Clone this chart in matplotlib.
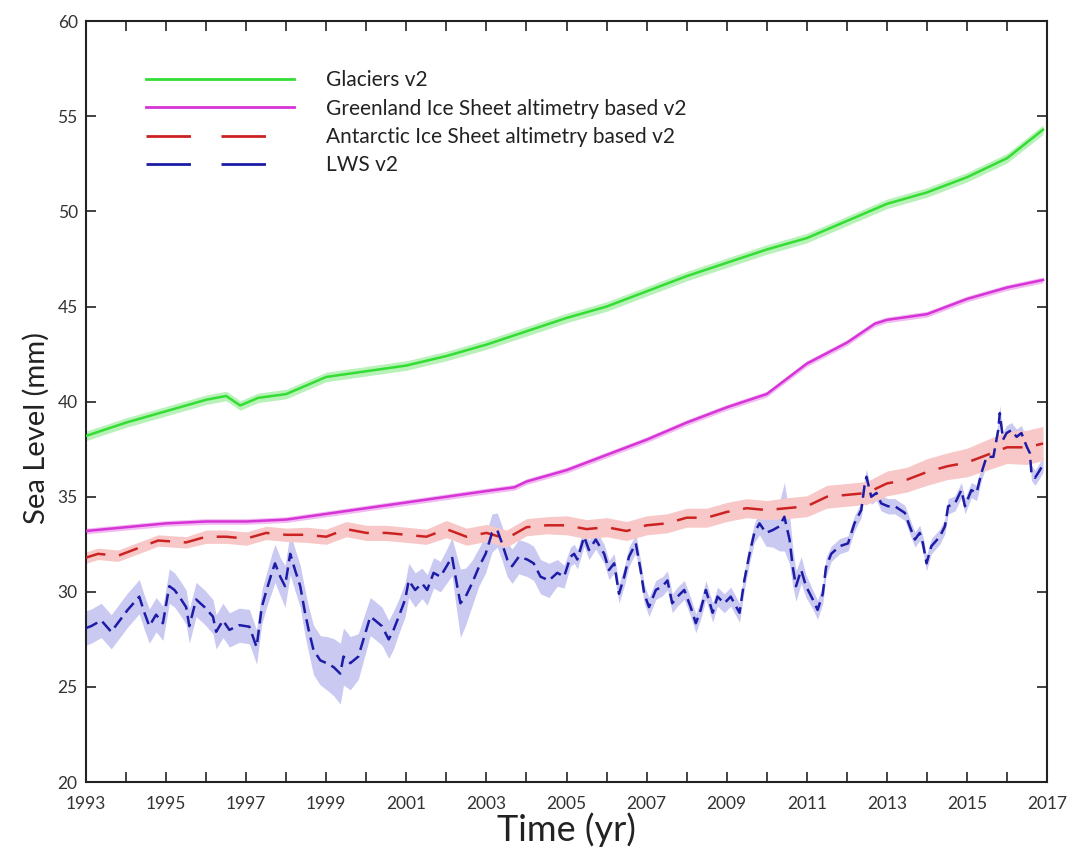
#!/usr/bin/env python3
"""
Sea level contributions 1993-2017: glaciers, Greenland, Antarctica and land water storage.
"""

import numpy as np
import matplotlib
matplotlib.use('Agg')
import matplotlib.pyplot as plt
from matplotlib.lines import Line2D

plt.rcParams['font.family'] = ['Lato', 'DejaVu Sans']

# Glaciers v2
glac_year = [1993.0, 1994.0, 1995.0, 1996.0, 1996.5, 1996.85, 1997.3, 1998.0, 1999.0, 2000.0,
             2001.0, 2002.0, 2003.0, 2004.0, 2005.0, 2006.0, 2007.0, 2008.0, 2009.0, 2010.0,
             2011.0, 2012.0, 2013.0, 2014.0, 2015.0, 2016.0, 2016.9]
glac_val = [38.2, 38.9, 39.5, 40.1, 40.3, 39.8, 40.2, 40.4, 41.3, 41.6,
            41.9, 42.4, 43.0, 43.7, 44.4, 45.0, 45.8, 46.6, 47.3, 48.0,
            48.6, 49.5, 50.4, 51.0, 51.8, 52.8, 54.3]

# Greenland Ice Sheet altimetry based v2
grl_year = [1993.0, 1994.0, 1995.0, 1996.0, 1997.0, 1998.0, 1999.0, 2000.0, 2001.0, 2002.0,
            2003.0, 2003.7, 2004.0, 2005.0, 2006.0, 2007.0, 2008.0, 2009.0, 2010.0, 2010.5,
            2011.0, 2012.0, 2012.7, 2013.0, 2014.0, 2015.0, 2016.0, 2016.9]
grl_val = [33.2, 33.4, 33.6, 33.7, 33.7, 33.8, 34.1, 34.4, 34.7, 35.0,
           35.3, 35.5, 35.8, 36.4, 37.2, 38.0, 38.9, 39.7, 40.4, 41.2,
           42.0, 43.1, 44.1, 44.3, 44.6, 45.4, 46.0, 46.4]

# Antarctic Ice Sheet altimetry based v2
ant_year = [1993.0, 1993.3, 1993.8, 1994.3, 1994.8, 1995.5, 1996.0, 1996.5, 1997.0, 1997.5,
            1998.0, 1998.5, 1999.0, 1999.5, 2000.0, 2000.5, 2001.0, 2001.5, 2002.0, 2002.5,
            2003.0, 2003.5, 2004.0, 2004.5, 2005.0, 2005.5, 2006.0, 2006.5, 2007.0, 2007.5,
            2008.0, 2008.5, 2009.0, 2009.5, 2010.0, 2010.5, 2011.0, 2011.5, 2012.0, 2012.5,
            2013.0, 2013.5, 2014.0, 2014.5, 2015.0, 2015.5, 2016.0, 2016.5, 2016.9]
ant_val = [31.8, 32.0, 31.9, 32.3, 32.7, 32.6, 32.9, 32.9, 32.8, 33.1,
           33.0, 33.0, 32.9, 33.3, 33.1, 33.1, 33.0, 32.9, 33.3, 32.9,
           33.1, 32.8, 33.4, 33.5, 33.5, 33.3, 33.4, 33.2, 33.5, 33.6,
           33.9, 33.9, 34.2, 34.4, 34.3, 34.4, 34.5, 35.0, 35.1, 35.2,
           35.7, 35.9, 36.3, 36.6, 36.8, 37.2, 37.6, 37.6, 37.8]
ant_err = [0.3, 0.3, 0.3, 0.3, 0.3, 0.3, 0.35, 0.35, 0.35, 0.35,
           0.35, 0.4, 0.4, 0.4, 0.4, 0.4, 0.4, 0.4, 0.45, 0.45,
           0.45, 0.45, 0.45, 0.45, 0.5, 0.5, 0.5, 0.5, 0.5, 0.5,
           0.5, 0.5, 0.5, 0.5, 0.5, 0.55, 0.55, 0.6, 0.6, 0.6,
           0.65, 0.65, 0.7, 0.7, 0.75, 0.8, 0.85, 0.9, 0.9]

# LWS v2
lws_year = [1993.00, 1993.13, 1993.38, 1993.63, 1993.79, 1994.04, 1994.33, 1994.46, 1994.58, 1994.75,
            1994.92, 1995.08, 1995.21, 1995.33, 1995.50, 1995.58, 1995.75, 1995.96, 1996.17, 1996.25,
            1996.42, 1996.58, 1996.83, 1997.08, 1997.26, 1997.39, 1997.51, 1997.64, 1997.72, 1997.85,
            1997.97, 1998.10, 1998.22, 1998.35, 1998.47, 1998.56, 1998.68, 1998.85, 1999.01, 1999.18,
            1999.35, 1999.43, 1999.60, 1999.80, 1999.97, 2000.10, 2000.22, 2000.39, 2000.56, 2000.68,
            2000.81, 2000.97, 2001.06, 2001.22, 2001.39, 2001.52, 2001.68, 2001.85, 2002.02, 2002.14,
            2002.27, 2002.35, 2002.48, 2002.64, 2002.81, 2002.98, 2003.14, 2003.27, 2003.39, 2003.52,
            2003.64, 2003.81, 2004.02, 2004.18, 2004.35, 2004.56, 2004.77, 2004.94, 2005.10, 2005.19,
            2005.27, 2005.44, 2005.56, 2005.73, 2005.94, 2006.06, 2006.19, 2006.31, 2006.44, 2006.56,
            2006.73, 2006.85, 2006.94, 2007.06, 2007.23, 2007.40, 2007.52, 2007.64, 2007.77, 2007.94,
            2008.10, 2008.23, 2008.35, 2008.48, 2008.65, 2008.77, 2008.94, 2009.10, 2009.32, 2009.44,
            2009.57, 2009.69, 2009.82, 2009.98, 2010.15, 2010.32, 2010.44, 2010.57, 2010.65, 2010.73,
            2010.86, 2010.98, 2011.15, 2011.27, 2011.40, 2011.48, 2011.61, 2011.82, 2012.03, 2012.19,
            2012.36, 2012.44, 2012.49, 2012.61, 2012.74, 2012.86, 2013.03, 2013.20, 2013.45, 2013.57,
            2013.70, 2013.82, 2013.90, 2013.99, 2014.11, 2014.32, 2014.45, 2014.53, 2014.70, 2014.86,
            2014.95, 2015.11, 2015.24, 2015.36, 2015.49, 2015.66, 2015.78, 2015.82, 2015.90, 2015.99,
            2016.11, 2016.24, 2016.36, 2016.49, 2016.57, 2016.61, 2016.70, 2016.82, 2016.90]
lws_val = [28.1, 28.2, 28.5, 27.9, 28.35, 29.05, 29.75, 28.9, 28.2, 28.8,
           28.35, 30.3, 30.1, 29.75, 29.2, 28.2, 29.6, 29.2, 28.7, 27.9,
           28.5, 28.0, 28.25, 28.17, 27.1, 29.2, 30.1, 31.0, 31.5, 30.8,
           30.3, 32.0, 31.15, 30.3, 28.9, 28.0, 26.95, 26.4, 26.25, 26.05,
           25.7, 26.6, 26.25, 26.6, 27.8, 28.7, 28.5, 28.2, 27.5, 28.0,
           28.7, 29.6, 30.6, 30.1, 30.45, 30.1, 31.0, 30.8, 31.4, 31.85,
           30.3, 29.4, 29.75, 30.45, 31.3, 32.0, 33.1, 33.25, 32.55, 31.7,
           31.35, 31.85, 31.7, 31.5, 30.8, 30.6, 31.0, 30.8, 31.85, 32.0,
           31.7, 32.9, 32.2, 32.75, 32.0, 31.15, 31.5, 29.9, 30.8, 31.85,
           32.55, 31.15, 29.9, 29.2, 30.1, 30.3, 30.6, 29.4, 29.75, 30.1,
           29.2, 28.35, 29.05, 30.1, 28.9, 29.75, 29.4, 29.75, 28.9, 30.6,
           32.0, 33.1, 33.6, 33.1, 33.25, 33.45, 33.95, 32.75, 31.3, 30.3,
           31.15, 30.3, 29.6, 29.05, 29.9, 31.3, 32.0, 32.4, 32.55, 33.6,
           34.3, 35.55, 36.05, 35.0, 35.2, 34.65, 34.5, 34.5, 34.15, 33.45,
           32.75, 33.1, 32.55, 31.5, 32.4, 32.9, 33.45, 34.5, 34.65, 35.35,
           34.5, 35.35, 35.2, 36.25, 37.1, 37.1, 38.5, 39.4, 38.0, 38.35,
           38.5, 38.15, 38.35, 37.65, 37.3, 36.25, 36.0, 36.4, 36.7]
lws_err = [0.9, 0.9, 0.9, 0.9, 0.9, 0.9, 0.9, 0.9, 0.9, 0.9,
           0.9, 0.9, 0.9, 0.9, 0.9, 0.9, 0.9, 0.9, 0.9, 0.9,
           0.9, 0.9, 0.9, 0.9, 0.9, 0.9, 0.9, 1.0, 1.0, 1.0,
           1.1, 1.1, 1.1, 1.1, 1.2, 1.2, 1.3, 1.3, 1.4, 1.5,
           1.6, 1.5, 1.4, 1.2, 1.1, 1.0, 1.0, 1.0, 1.0, 1.0,
           0.9, 0.9, 0.9, 0.9, 0.8, 0.8, 0.8, 0.8, 0.9, 1.0,
           1.5, 1.8, 1.5, 1.2, 1.0, 1.0, 1.0, 0.9, 0.9, 0.9,
           0.9, 0.9, 0.9, 0.9, 0.9, 0.9, 0.7, 0.6, 0.5, 0.5,
           0.5, 0.5, 0.5, 0.5, 0.5, 0.5, 0.5, 0.5, 0.5, 0.5,
           0.5, 0.5, 0.5, 0.5, 0.5, 0.5, 0.5, 0.5, 0.5, 0.5,
           0.5, 0.5, 0.5, 0.5, 0.5, 0.5, 0.5, 0.5, 0.5, 0.5,
           0.5, 0.5, 0.6, 0.7, 0.9, 1.3, 1.8, 1.3, 1.0, 0.8,
           0.7, 0.6, 0.5, 0.5, 0.5, 0.5, 0.4, 0.4, 0.4, 0.4,
           0.4, 0.4, 0.4, 0.4, 0.4, 0.4, 0.4, 0.4, 0.4, 0.4,
           0.4, 0.4, 0.4, 0.4, 0.4, 0.4, 0.4, 0.4, 0.4, 0.4,
           0.4, 0.4, 0.4, 0.4, 0.4, 0.4, 0.4, 0.4, 0.4, 0.4,
           0.4, 0.4, 0.4, 0.4, 0.4, 0.4, 0.4, 0.4, 0.4]

labels = ['Glaciers v2', 'Greenland Ice Sheet altimetry based v2',
          'Antarctic Ice Sheet altimetry based v2', 'LWS v2']

GREEN = '#33dd33'
MAGENTA = '#d634d6'
RED = '#cc2222'
BLUE = '#1c1ca6'

fig = plt.figure(figsize=(10.75, 8.51), dpi=100)
ax = fig.add_axes([0.080, 0.081, 0.894, 0.894])

# uncertainty bands
ly, lv, le = np.array(lws_year), np.array(lws_val), np.array(lws_err)
ax.fill_between(ly, lv - le, lv + le, color='#c9c9f2', lw=0, zorder=1)
ay, av, ae = np.array(ant_year), np.array(ant_val), np.array(ant_err)
ax.fill_between(ay, av - ae, av + ae, color='#f8c8c8', lw=0, zorder=1)
gy, gv = np.array(glac_year), np.array(glac_val)
ax.fill_between(gy, gv - 0.25, gv + 0.25, color='#b9f2b9', lw=0, zorder=1)
ry, rv = np.array(grl_year), np.array(grl_val)
ax.fill_between(ry, rv - 0.15, rv + 0.15, color='#f2b9f2', lw=0, zorder=1)

# series
ax.plot(glac_year, glac_val, color=GREEN, lw=1.8, zorder=3)
ax.plot(grl_year, grl_val, color=MAGENTA, lw=1.8, zorder=3)
ax.plot(ant_year, ant_val, color=RED, lw=1.8, dashes=(8, 5.5), zorder=3)
ax.plot(lws_year, lws_val, color=BLUE, lw=1.8, dashes=(5, 2.5), zorder=4)

ax.set_xlim(1993, 2017)
ax.set_ylim(20, 60)
ax.set_xticks(np.arange(1993, 2018, 2))
ax.set_xticks(np.arange(1993, 2018, 1), minor=True)
ax.set_yticks(np.arange(20, 61, 5))
ax.tick_params(which='both', direction='in', top=True, right=True,
               length=7, width=1.2, colors='#222222', labelsize=12.5, labelcolor='#333333')
ax.tick_params(axis='x', which='both', pad=10)
ax.tick_params(axis='y', which='both', pad=6)
for s in ax.spines.values():
    s.set_linewidth(1.5)
    s.set_color('#222222')

ax.set_xlabel('Time (yr)', fontsize=26, color='#222222', labelpad=0)
ax.set_ylabel('Sea Level (mm)', fontsize=21, color='#222222')
ax.yaxis.set_label_coords(-0.038, 0.465)

handles = [
    Line2D([], [], color=GREEN, lw=2),
    Line2D([], [], color=MAGENTA, lw=2),
    Line2D([], [], color=RED, lw=2, dashes=(16, 11)),
    Line2D([], [], color=BLUE, lw=2, dashes=(16, 11)),
]
leg = ax.legend(handles, labels, loc='upper left', bbox_to_anchor=(0.043, 0.96),
                frameon=False, fontsize=15, handlelength=7.1, handletextpad=1.55,
                labelspacing=0.4)
for t in leg.get_texts():
    t.set_color('#222222')

fig.savefig('out.png', dpi=100)
